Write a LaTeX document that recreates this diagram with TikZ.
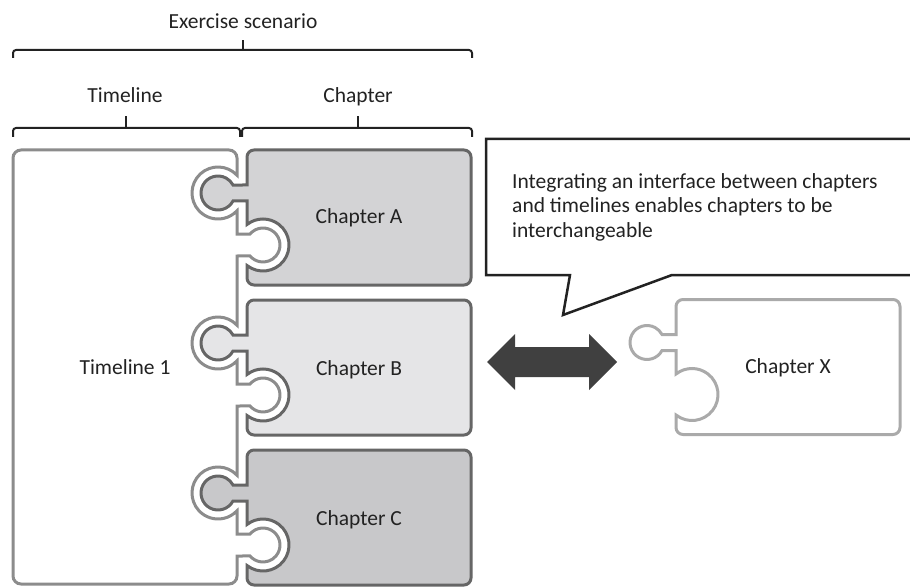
\documentclass[tikz,border=0pt]{standalone}
\usepackage{fontspec}
\setmainfont{Carlito}
\usetikzlibrary{positioning}

\definecolor{txtdark}{HTML}{222222}
\definecolor{tlline}{HTML}{8C8C8C}
\definecolor{chline}{HTML}{666666}
\definecolor{chAfill}{HTML}{D3D3D5}
\definecolor{chBfill}{HTML}{E5E5E7}
\definecolor{chCfill}{HTML}{C8C8CA}
\definecolor{chXline}{HTML}{AAAAAA}
\definecolor{arrowfill}{HTML}{404040}

\tikzset{
  txt/.style={font=\fontsize{21.5}{24.5}\selectfont, text=txtdark},
  brace/.style={line width=2pt, draw=txtdark, rounded corners=3pt},
  chapterpiece/.pic={
    \path[pic actions] (0,35) -- (0,7) arc (180:270:7) -- (217,0) arc (270:360:7)
      -- (224,128) arc (0:90:7) -- (7,135) arc (90:180:7)
      -- (0,115.49) arc (128:-128:26) -- (0,51) -- (-14,51) arc (28.07:331.93:17) -- cycle;
  }
}

\begin{document}
\begin{tikzpicture}[x=1pt, y=-1pt]
    \useasboundingbox (0,0) rectangle (910,588);
    \clip (0,0) rectangle (910,588);

    % headings and braces
    \node[txt, anchor=base] (scenario) at (243,29) {Exercise scenario};
    \node[txt, anchor=base] (tlhead) at (125,103) {Timeline};
    \node[txt, anchor=base] (chhead) at (358,103) {Chapter};
    \draw[brace] (13,58) -- (13,50) -- (472,50) -- (472,58);
    \draw[brace] (243,50) -- (243,40);
    \draw[brace] (13,137) -- (13,128) -- (240,128) -- (240,137);
    \draw[brace] (126,128) -- (126,116);
    \draw[brace] (242,137) -- (242,128) -- (472,128) -- (472,137);
    \draw[brace] (358,128) -- (358,116);

    % timeline
    \draw[draw=tlline, fill=white, line width=3pt]
      (13,158) arc (180:270:8) -- (229,150) arc (270:360:8)
      \foreach \t in {150,300,450} {
        -- (237,\t+25.25) arc (-43.05:-316.95:26)
        -- (237,\t+84) -- (250.04,\t+84) arc (-139.7:139.7:17) -- (237,\t+106)
      }
      -- (237,576) arc (0:90:8) -- (21,584) arc (90:180:8) -- cycle;
    \node[txt] (tl1) at (125,367) {Timeline 1};

    % chapters
    \pic[draw=chline, fill=chAfill, line width=3pt] at (247,150) {chapterpiece};
    \pic[draw=chline, fill=chBfill, line width=3pt] at (247,300) {chapterpiece};
    \pic[draw=chline, fill=chCfill, line width=3pt] at (247,450) {chapterpiece};
    \node[txt] (chA) at (359,218) {Chapter A};
    \node[txt] (chB) at (359,370) {Chapter B};
    \node[txt] (chC) at (359,520) {Chapter C};

    % exchangeable chapter
    \pic[draw=chXline, fill=white, line width=3pt] at (676,299.5) {chapterpiece};
    \node[txt] (chX) at (788,368) {Chapter X};

    % swap arrow
    \fill[arrowfill] (487,362) -- (515,334) -- (515,347) -- (589,347) -- (589,334)
      -- (617,362) -- (589,390) -- (589,377) -- (515,377) -- (515,390) -- cycle;

    % callout
    \draw[draw=txtdark, fill=white, line width=2.5pt, line join=miter]
      (486,139) -- (920,139) -- (920,275) -- (672,275) -- (563,315) -- (570,275) -- (486,275) -- cycle;
    \node[txt, anchor=north west, align=left, inner sep=0pt] (note) at (512,173)
      {Integrating an interface between chapters\\and timelines enables chapters to be\\interchangeable};
\end{tikzpicture}
\end{document}
